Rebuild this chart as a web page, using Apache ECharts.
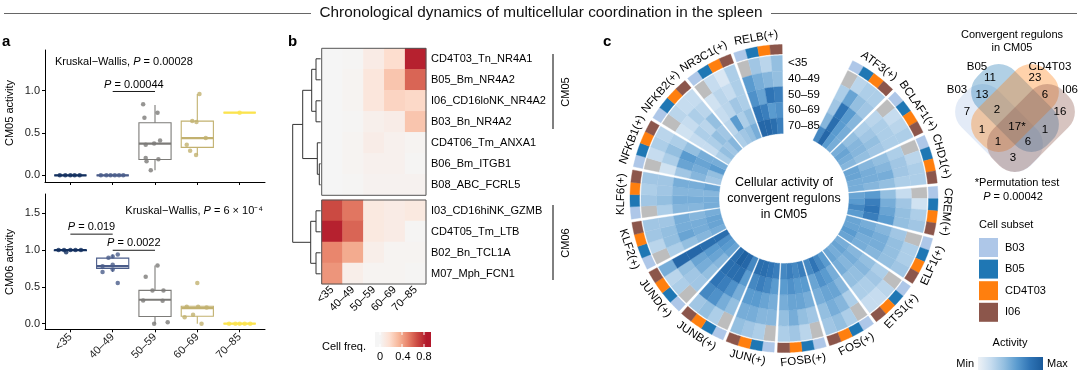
<!DOCTYPE html>
<html><head><meta charset="utf-8">
<script src="https://cdn.jsdelivr.net/npm/echarts@6/dist/echarts.min.js"></script>
<style>html,body{margin:0;padding:0;background:#fff;}#c{width:1080px;height:376px;}</style>
</head><body><div id="c"></div>
<script>
// ================= DATA =================
const ageGroups = ['<35', '40–49', '50–59', '60–69', '70–85'];

// ---- panel a : box statistics [min, Q1, median, Q3, max] per age group
const cm05Box = [[0,0,0,0,0],[0,0,0,0,0],[0.06,0.186,0.375,0.62,0.83],[0.24,0.33,0.44,0.64,0.96],[0.74,0.74,0.74,0.74,0.74]];
const cm06Box = [[0.985,0.99,1.0,1.0,1.0],[0.70,0.75,0.78,0.89,0.94],[0.0,0.096,0.324,0.452,0.79],[0.0,0.10,0.21,0.235,0.24],[0,0,0,0,0]];
// sample points per age group
const cm05Pts = [[0,0,0,0,0],[0,0,0,0,0,0],[0.84,0.74,0.68,0.41,0.375,0.36,0.205,0.19,0.166,0.06],[0.96,0.64,0.63,0.44,0.36,0.29,0.24],[0.74]];
const cm05Jit = [[-0.25,-0.12,0,0.1,0.22],[-0.28,-0.15,-0.05,0.05,0.15,0.25],[-0.28,0.06,-0.25,0.12,-0.02,-0.22,-0.22,0.08,-0.2,-0.1],[0.05,-0.12,-0.02,0.2,-0.25,-0.17,-0.03],[0]];
const cm06Pts = [[1,1,0.97,1,1,1],[0.94,0.91,0.895,0.80,0.78,0.735,0.70,0.55],[0.79,0.635,0.45,0.45,0.315,0.31,0.0,0.02],[0.55,0.23,0.23,0.22,0.12,0.087,0.0],[0,0,0,0,0]];
const cm06Jit = [[-0.28,-0.15,-0.1,0,0.12,0.25],[0.12,0,-0.1,0,-0.24,0,-0.24,0.12],[0.06,-0.22,-0.06,0.2,-0.28,0.18,-0.02,0.3],[0,-0.25,0.02,0.22,-0.1,-0.3,0.1],[-0.25,-0.1,0,0.12,0.25]];
// pairwise comparisons [group1, group2, bar y]
const cm05Comp = [[2,3,0.99]];
const cm05CompP = ['0.00044'];
const cm06Comp = [[1,2,1.215],[2,3,0.996]];
const cm06CompP = ['0.019','0.0022'];

// ---- panel b : cell frequency heatmap
const rowsCM05 = ['CD4T03_Tn_NR4A1','B05_Bm_NR4A2','I06_CD16loNK_NR4A2','B03_Bn_NR4A2','CD4T06_Tm_ANXA1','B06_Bm_ITGB1','B08_ABC_FCRL5'];
const rowsCM06 = ['I03_CD16hiNK_GZMB','CD4T05_Tm_LTB','B02_Bn_TCL1A','M07_Mph_FCN1'];
const freqCM05 = [[0.0,0.01,0.08,0.18,0.82],[0.0,0.02,0.12,0.28,0.60],[0.0,0.02,0.12,0.22,0.20],[0.0,0.01,0.05,0.07,0.28],[0.0,0.02,0.07,0.04,0.02],[0.0,0.02,0.04,0.04,0.01],[0.0,0.01,0.03,0.03,0.03]];
const freqCM06 = [[0.68,0.55,0.10,0.08,0.10],[0.82,0.60,0.10,0.08,0.01],[0.50,0.38,0.06,0.02,0.02],[0.45,0.06,0.02,0.02,0.01]];
// dendrogram merges [childA, childB, height]; leaves 0..10, new nodes 11..20
const dendroMerges = [[0,1,4.7],[2,3,4.7],[11,12,9],[5,6,1.4],[4,14,3.4],[13,15,18],[7,8,4.7],[9,10,4.7],[17,18,10],[16,19,28]];

// ---- panel c : regulon activity (rows = regulons, cols = age groups), null = NA
const regulons = ['ATF3(+)','BCLAF1(+)','CHD1(+)','CREM(+)','ELF1(+)','ETS1(+)','FOS(+)','FOSB(+)','JUN(+)','JUNB(+)','JUND(+)','KLF2(+)','KLF6(+)','NFKB1(+)','NFKB2(+)','NR3C1(+)','RELB(+)'];
const subsets = ['B03','B05','CD4T03','I06'];
const actB03 = [[null,.30,.35,.45,.70],[null,.25,.30,.40,.50],[null,.30,.40,.45,.55],[null,.20,.40,.60,.55],[null,.35,.45,.50,.55],[null,.30,.40,.45,.50],[null,.30,.45,.50,.60],[null,.35,.50,.60,.75],[null,.45,.50,.60,.75],[null,.40,.50,.60,.70],[null,.35,.40,.45,.55],[null,.30,.40,.45,.50],[null,.30,.45,.45,.50],[null,.15,.35,.45,.35],[null,.15,.20,.20,.30],[null,.15,.20,.25,.30],[null,.60,.65,.80,.90]];
const actB05 = [[.25,.55,.80,.85,.90],[.20,.30,.35,.45,.55],[.25,.35,.45,.50,.55],[.15,.35,.50,.75,.60],[.30,.40,.50,.55,.55],[.25,.35,.45,.50,.55],[.30,.45,.55,.60,.70],[.25,.40,.55,.60,.70],[.30,.45,.55,.70,.80],[.30,.50,.65,.85,.90],[.30,.35,.50,.55,.60],[.25,.40,.55,.50,.55],[.35,.40,.50,.50,.50],[.20,.30,.55,.50,.40],[.25,.20,.30,.30,.40],[.20,.25,.25,.60,.35],[.35,.50,.55,.75,.90]];
const actCD4T03 = [[.30,.40,.60,.60,.60],[.25,.30,.40,.45,.50],[.30,.35,.50,.50,.50],[.30,.40,.55,.80,.70],[.30,.40,.50,.50,.60],[.20,.30,.40,.45,.50],[.40,.50,.55,.65,.80],[.35,.50,.55,.65,.75],[.35,.50,.60,.75,.85],[.40,.65,.75,.85,.95],[.25,.40,.55,.60,.65],[.35,.40,.50,.50,.55],[.30,.35,.45,.45,.45],[.30,.40,.60,.55,.60],[.20,.30,.25,.40,.35],[.10,.20,.35,.30,.40],[.25,.45,.80,.60,.85]];
const actI06 = [[.30,.35,.45,.50,.50],[.30,.30,.35,.40,.45],[.30,.30,.40,.45,.50],[.35,.40,.60,.75,.60],[.35,.40,.45,.50,.55],[.20,.30,.40,.50,.55],[.35,.40,.50,.55,.70],[.30,.40,.50,.60,.70],[.40,.50,.60,.70,.85],[.35,.70,.80,.85,.85],[.50,.90,.90,.85,.85],[.35,.35,.50,.45,.50],[.35,.35,.50,.50,.55],[.25,.30,.40,.50,.50],[.20,.25,.40,.35,.45],[.30,.30,.30,.40,.50],[.40,.40,.75,.65,.75]];

// ---- Venn counts (region labels) and set names
const vennSets = ['B03','B05','CD4T03','I06'];
const vennCounts = ['7','11','23','16','13','6','3','2','1','17*','1','1','6'];

// ================= STYLE / LAYOUT =================
const FONT = "'Liberation Sans', Arial, Helvetica, sans-serif";
const ageColors = ['#13305f','#4a5c8a','#7c7b78','#c2b16f','#fbe34e'];
const subsetColors = ['#aec7e8','#1f77b4','#ff7f0e','#8c564b'];
const heatColors = ['#f5f5f5','#fde0d2','#f7b79a','#e8836a','#cb4a42','#b2182b'];
const blueColors = ['#eef2f6','#c6dcef','#94bfe0','#5a9bcf','#2f74b5','#1a5a9a'];
const NA_COLOR = '#bdbdbd';

// polar geometry (pixel units on the radius axis)
const P_CX = 784, P_CY = 198.5;
const R_IN = 65, R_W = 15.6;                 // inner radius, ring width
const R_OUT = R_IN + 5 * R_W;                // outer radius of heatmap
const R_ANN0 = R_OUT + 1.5, R_ANN1 = R_OUT + 11;
const R_LAB = R_ANN1 + 9;
const A_START = 26.5, A_STEP = 19.65, A_SPAN = 18.4;

const chart = echarts.init(document.getElementById('c'), null, {width:1080, height:376});
const series = [];
function add(s){ series.push(s); return series.length - 1; }

// ---------- panel a renderers ----------
function boxRenderer(params, api) {
  const x = api.value(0), mn = api.value(1), q1 = api.value(2), md = api.value(3), q3 = api.value(4), mx = api.value(5);
  const col = ageColors[params.dataIndex];
  const hw = 0.38;
  const tl = api.coord([x - hw, q3]), br = api.coord([x + hw, q1]);
  const m0 = api.coord([x - hw, md]), m1 = api.coord([x + hw, md]);
  const pT = api.coord([x, mx]), pQ3 = api.coord([x, q3]), pQ1 = api.coord([x, q1]), pB = api.coord([x, mn]);
  return {type:'group', children:[
    {type:'line', shape:{x1:pT[0],y1:pT[1],x2:pQ3[0],y2:pQ3[1]}, style:{stroke:col, lineWidth:1.1}},
    {type:'line', shape:{x1:pQ1[0],y1:pQ1[1],x2:pB[0],y2:pB[1]}, style:{stroke:col, lineWidth:1.1}},
    {type:'rect', shape:{x:tl[0], y:tl[1], width:br[0]-tl[0], height:br[1]-tl[1]}, style:{fill:'rgba(255,255,255,0)', stroke:col, lineWidth:1.1}},
    {type:'line', shape:{x1:m0[0],y1:m0[1],x2:m1[0],y2:m1[1]}, style:{stroke:col, lineWidth:2.2}}
  ]};
}
function compRenderer(labels) {
  return function(params, api) {
    const p0 = api.coord([api.value(0), api.value(2)]), p1 = api.coord([api.value(1), api.value(2)]);
    return {type:'group', children:[
      {type:'line', shape:{x1:p0[0],y1:p0[1],x2:p1[0],y2:p1[1]}, style:{stroke:'#000', lineWidth:0.9}},
      {type:'text', x:(p0[0]+p1[0])/2, y:p0[1]-1.5, style:{text:'{i|P} = ' + labels[params.dataIndex], fontSize:11, fontFamily:FONT, fill:'#000', align:'center', verticalAlign:'bottom', rich:{i:{fontStyle:'italic', fontSize:11, fontFamily:FONT}}}}
    ]};
  };
}
function boxData(box){ return box.map((b, i) => [i + 1].concat(b)); }
function ptsData(pts, jit){
  const out = [];
  pts.forEach((g, i) => g.forEach((v, k) => out.push({value:[i + 1 + jit[i][k], v], itemStyle:{color: ageColors[i]}})));
  return out;
}
[[cm05Box, cm05Pts, cm05Jit, cm05Comp, cm05CompP, 0], [cm06Box, cm06Pts, cm06Jit, cm06Comp, cm06CompP, 1]].forEach(([bx, pt, jt, cp, cpl, gi]) => {
  add({type:'custom', xAxisIndex:gi, yAxisIndex:gi, renderItem:boxRenderer, data:boxData(bx), z:2, clip:false, silent:true});
  add({type:'scatter', xAxisIndex:gi, yAxisIndex:gi, symbolSize:4.5, data:ptsData(pt, jt), z:3, silent:true});
  add({type:'custom', xAxisIndex:gi, yAxisIndex:gi, renderItem:compRenderer(cpl), data:cp, z:3, clip:false, silent:true});
});

// ---------- panel b ----------
const GAP_ROWS = 5 / 21;
const leafY = [];
for (let i = 0; i < rowsCM05.length; i++) leafY.push(i + 0.5);
for (let i = 0; i < rowsCM06.length; i++) leafY.push(rowsCM05.length + i + 0.5 + GAP_ROWS);
const nodeY = leafY.slice(), nodeH = leafY.map(() => 0);
dendroMerges.forEach(([a, b, h]) => { nodeY.push((nodeY[a] + nodeY[b]) / 2); nodeH.push(h); });
add({type:'custom', xAxisIndex:2, yAxisIndex:2, clip:false, silent:true, data:dendroMerges,
  renderItem:function(params, api){
    const m = dendroMerges[params.dataIndex];
    const a = m[0], b = m[1], h = m[2];
    const pa0 = api.coord([nodeH[a], nodeY[a]]), pa1 = api.coord([h, nodeY[a]]);
    const pb0 = api.coord([nodeH[b], nodeY[b]]), pb1 = api.coord([h, nodeY[b]]);
    const st = {stroke:'#333', lineWidth:1};
    return {type:'group', children:[
      {type:'line', shape:{x1:pa0[0],y1:pa0[1],x2:pa1[0],y2:pa1[1]}, style:st},
      {type:'line', shape:{x1:pb0[0],y1:pb0[1],x2:pb1[0],y2:pb1[1]}, style:st},
      {type:'line', shape:{x1:pa1[0],y1:pa1[1],x2:pb1[0],y2:pb1[1]}, style:st}
    ]};
  }});
function hmData(freq){ const d = []; freq.forEach((row, r) => row.forEach((v, c) => d.push([c, r, v]))); return d; }
const hm1 = add({type:'heatmap', xAxisIndex:3, yAxisIndex:3, data:hmData(freqCM05), silent:true});
const hm2 = add({type:'heatmap', xAxisIndex:4, yAxisIndex:4, data:hmData(freqCM06), silent:true});

// ---------- panel c ----------
const actBySubset = [actB03, actB05, actCD4T03, actI06];
const cellData = [];
regulons.forEach((rg, r) => subsets.forEach((s, k) => ageGroups.forEach((a, g) => {
  const v = actBySubset[k][r][g];
  cellData.push([r, k, g, v === null ? -1 : v]);
})));
function sectorPts(api, r0, r1, a0, a1) {
  const pts = [], n = 8;
  for (let i = 0; i <= n; i++) pts.push(api.coord([r1, a0 + (a1 - a0) * i / n]));
  for (let i = n; i >= 0; i--) pts.push(api.coord([r0, a0 + (a1 - a0) * i / n]));
  return pts;
}
const CELL_A = A_SPAN / subsets.length;
const cellSeries = add({type:'custom', coordinateSystem:'polar', polarIndex:0, data:cellData, silent:true,
  renderItem:function(params, api){
    const r = api.value(0), k = api.value(1), g = api.value(2), v = api.value(3);
    const a0 = A_START + r * A_STEP + k * CELL_A, a1 = a0 + CELL_A;
    const rOut = R_OUT - g * R_W, rIn = rOut - R_W;
    const fill = v < 0 ? NA_COLOR : api.visual('color');
    return {type:'polygon', shape:{points:sectorPts(api, rIn, rOut, a0, a1)}, style:{fill:fill, stroke:fill, lineWidth:0.4}};
  }});
const annData = [];
regulons.forEach((rg, r) => subsets.forEach((s, k) => annData.push([r, k])));
add({type:'custom', coordinateSystem:'polar', polarIndex:0, data:annData, silent:true,
  renderItem:function(params, api){
    const r = api.value(0), k = api.value(1);
    const a0 = A_START + r * A_STEP + k * CELL_A, a1 = a0 + CELL_A;
    return {type:'polygon', shape:{points:sectorPts(api, R_ANN0, R_ANN1, a0, a1)}, style:{fill:subsetColors[k], stroke:subsetColors[k], lineWidth:0.4}};
  }});
add({type:'custom', coordinateSystem:'polar', polarIndex:0, data:regulons.map((r, i) => [i]), silent:true,
  renderItem:function(params, api){
    const i = api.value(0);
    const mid = A_START + i * A_STEP + A_SPAN / 2;
    const p = api.coord([R_LAB, mid]);
    const flip = mid > 100 && mid < 260;
    const rot = (flip ? 180 - mid : -mid) * Math.PI / 180;
    return {type:'text', x:p[0], y:p[1], rotation:rot, style:{text:regulons[i], fontSize:11.5, fontFamily:FONT, fill:'#000', align:'center', verticalAlign:'middle'}};
  }});
add({type:'custom', coordinateSystem:'polar', polarIndex:0, data:ageGroups.map((a, i) => [i]), silent:true,
  renderItem:function(params, api){
    const g = api.value(0);
    const p = api.coord([R_OUT - (g + 0.5) * R_W, 0]);
    return {type:'text', x:p[0] + 4, y:p[1], style:{text:ageGroups[g], fontSize:11.5, fontFamily:FONT, fill:'#000', align:'left', verticalAlign:'middle'}};
  }});

// ---------- graphics (titles, legends, annotations) ----------
const G = [];
function T(x, y, text, o) {
  o = o || {};
  G.push({type:'text', x:x, y:y, rotation:o.rot || 0, z:20, silent:true, style:{text:text, fontSize:o.fs || 11, fontFamily:FONT, fontWeight:o.fw || 'normal', fill:o.fill || '#000', align:o.align || 'left', verticalAlign:o.va || 'middle', lineHeight:o.lh, rich:{i:{fontStyle:'italic', fontSize:o.fs || 11, fontFamily:FONT}}}});
}
function L(x1, y1, x2, y2, c, w) { G.push({type:'line', z:20, silent:true, shape:{x1, y1, x2, y2}, style:{stroke:c || '#000', lineWidth:w || 1}}); }
function R(x, y, w, h, fill, stroke) { G.push({type:'rect', z:19, silent:true, shape:{x, y, width:w, height:h}, style:{fill:fill || 'none', stroke:stroke || null, lineWidth:1}}); }

// header
T(541, 13, 'Chronological dynamics of multicellular coordination in the spleen', {fs:15.3, align:'center', fill:'#111'});
L(4, 13.5, 311, 13.5, '#666', 1); L(771, 13.5, 1077, 13.5, '#666', 1);
T(2, 42, 'a', {fs:15, fw:'bold'}); T(288, 42, 'b', {fs:15, fw:'bold'}); T(603, 42, 'c', {fs:15, fw:'bold'});
// panel a annotations
T(55, 62, 'Kruskal−Wallis, {i|P} = 0.00028');
T(263, 211, 'Kruskal−Wallis, {i|P} = 6 × 10⁻⁴', {align:'right'});
T(10, 113, 'CM05 activity', {rot:Math.PI/2, align:'center'});
T(10, 262, 'CM06 activity', {rot:Math.PI/2, align:'center'});
// panel b annotations
R(321.7, 48.3, 104.3, 147, 'none', '#555'); R(321.7, 200, 104.3, 84, 'none', '#555');
L(553, 54, 553, 129, '#000', 1); T(566, 92, 'CM05', {rot:Math.PI/2, align:'center'});
L(553, 205, 553, 280, '#000', 1); T(566, 243, 'CM06', {rot:Math.PI/2, align:'center'});
T(322, 347, 'Cell freq.', {});
G.push({type:'rect', z:19, silent:true, shape:{x:375, y:332, width:56, height:15}, style:{fill:new echarts.graphic.LinearGradient(0,0,1,0,[
  {offset:0, color:heatColors[0]},{offset:0.088, color:heatColors[0]},{offset:0.255, color:heatColors[1]},{offset:0.422, color:heatColors[2]},
  {offset:0.588, color:heatColors[3]},{offset:0.755, color:heatColors[4]},{offset:0.922, color:heatColors[5]},{offset:1, color:heatColors[5]}])}});
[380, 402, 424].forEach(x => { L(x, 332, x, 335, '#fff', 1); L(x, 344, x, 347, '#fff', 1); });
T(380, 357, '0', {align:'center'}); T(403, 357, '0.4', {align:'center'}); T(424, 357, '0.8', {align:'center'});
// panel c centre text
T(P_CX, 199, 'Cellular activity of\nconvergent regulons\nin CM05', {fs:12.5, align:'center', lh:16});
// Venn diagram
const vennCenters = [[999,128,-1],[1015,108,-1],[1015,108,1],[1031,128,1]];
vennCenters.forEach(([x, y, s], i) => {
  G.push({type:'rect', x:x, y:y, rotation:s * Math.PI / 4, z:15, silent:true, shape:{x:-49, y:-26, width:98, height:52, r:22}, style:{fill:subsetColors[i], opacity:0.35}});
});
const vennPos = [[967,112],[990,78],[1035,78],[1060,112],[982,95],[1045,95],[1013,158],[997,110],[982,130],[1017,127],[1045,130],[998,142],[1028,142]];
vennCounts.forEach((c, i) => T(vennPos[i][0], vennPos[i][1], c, {fs:11.5, align:'center'}));
const vennLabPos = [[957,90],[977,67],[1050,67],[1070,90]];
vennSets.forEach((s, i) => T(vennLabPos[i][0], vennLabPos[i][1], s, {fs:11.5, align:'center'}));
T(1012, 35, 'Convergent regulons', {align:'center'}); T(1012, 48, 'in CM05', {align:'center'});
T(1017, 183, '*Permutation test', {align:'center'}); T(1013, 197, '{i|P} = 0.00042', {align:'center'});
// cell subset legend
T(979, 225, 'Cell subset', {});
subsets.forEach((s, i) => { R(979, 238 + i * 21.6, 19, 19, subsetColors[i], null); T(1005, 247.5 + i * 21.6, s, {}); });
// activity legend
T(1010, 343, 'Activity', {align:'center'});
G.push({type:'rect', z:19, silent:true, shape:{x:978, y:357, width:65, height:13}, style:{fill:new echarts.graphic.LinearGradient(0,0,1,0,
  blueColors.map((c, i) => ({offset:i / (blueColors.length - 1), color:c})))}});
T(974, 363.5, 'Min', {align:'right'}); T(1047, 363.5, 'Max', {align:'left'});

// ---------- axes ----------
const axLine = {show:true, lineStyle:{color:'#000', width:1}};
const axTick = {show:true, length:3, lineStyle:{color:'#000', width:1}};
function aX(gi, showLabels) {
  return {type:'value', gridIndex:gi, min:0.4, max:5.6, splitLine:{show:false}, axisLine:Object.assign({onZero:false}, axLine),
    axisTick:Object.assign({customValues:[1,2,3,4,5]}, axTick),
    axisLabel:{show:showLabels, customValues:[1,2,3,4,5], rotate:45, margin:6, fontSize:11, fontFamily:FONT, color:'#222', formatter:v => ageGroups[Math.round(v) - 1]}};
}
function aY(gi, mn, mx, ticks) {
  return {type:'value', gridIndex:gi, min:mn, max:mx, splitLine:{show:false}, axisLine:Object.assign({onZero:false}, axLine),
    axisTick:Object.assign({customValues:ticks}, axTick),
    axisLabel:{customValues:ticks, margin:5, fontSize:11, fontFamily:FONT, color:'#222', formatter:v => v.toFixed(1)}};
}
const option = {
  animation:false,
  textStyle:{fontFamily:FONT},
  grid:[
    {left:45, top:50, width:220, height:132},
    {left:45, top:194, width:220, height:135.3},
    {left:292.7, top:48.3, width:28, height:236},
    {left:321.7, top:48.3, width:104.3, height:147},
    {left:321.7, top:200, width:104.3, height:84}
  ],
  xAxis:[
    aX(0, false), aX(1, true),
    {type:'value', gridIndex:2, min:0, max:28, inverse:true, show:false},
    {type:'category', gridIndex:3, data:ageGroups, show:false},
    {type:'category', gridIndex:4, data:ageGroups, axisLine:{show:false}, axisTick:{show:false}, splitLine:{show:false},
      axisLabel:{rotate:45, margin:4, fontSize:11, fontFamily:FONT, color:'#000', interval:0}}
  ],
  yAxis:[
    aY(0, -0.079, 1.48, [0, 0.5, 1]),
    aY(1, -0.077, 1.76, [0, 0.5, 1, 1.5]),
    {type:'value', gridIndex:2, min:0, max:leafY.length + GAP_ROWS, inverse:true, show:false},
    {type:'category', gridIndex:3, data:rowsCM05, inverse:true, position:'right', axisLine:{show:false}, axisTick:{show:false},
      axisLabel:{margin:5, fontSize:11, fontFamily:FONT, color:'#000', interval:0}},
    {type:'category', gridIndex:4, data:rowsCM06, inverse:true, position:'right', axisLine:{show:false}, axisTick:{show:false},
      axisLabel:{margin:5, fontSize:11, fontFamily:FONT, color:'#000', interval:0}}
  ],
  polar:{center:[P_CX, P_CY], radius:[0, 180]},
  angleAxis:{type:'value', min:0, max:360, startAngle:90, clockwise:true, show:false},
  radiusAxis:{type:'value', min:0, max:180, show:false},
  visualMap:[
    {type:'continuous', show:false, seriesIndex:[hm1, hm2], dimension:2, min:0, max:0.85, inRange:{color:heatColors}},
    {type:'continuous', show:false, seriesIndex:[cellSeries], dimension:3, min:0, max:1, inRange:{color:blueColors}, outOfRange:{color:NA_COLOR}}
  ],
  graphic:{elements:G},
  series:series
};
chart.setOption(option);
</script>
</body></html>
